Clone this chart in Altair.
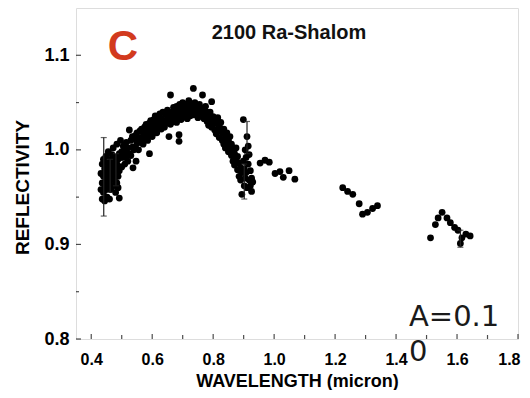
import altair as alt
import pandas as pd

# ---- data ----
lam = [
    # blue end cluster
    0.432, 0.432, 0.436, 0.436, 0.436, 0.440, 0.440, 0.440, 0.444, 0.444, 0.444,
    0.448, 0.448, 0.448, 0.452, 0.452, 0.452, 0.456, 0.456, 0.456, 0.460, 0.460, 0.460,
    0.464, 0.464, 0.464, 0.468, 0.468, 0.468, 0.472, 0.472, 0.472, 0.476, 0.476, 0.476,
    0.480, 0.480, 0.480, 0.484, 0.484, 0.484, 0.488, 0.488, 0.488, 0.492, 0.492, 0.492,
    0.496, 0.496, 0.496,
    # rising limb
    0.500, 0.500, 0.505, 0.505, 0.510, 0.510, 0.515, 0.515, 0.520, 0.520,
    0.525, 0.525, 0.530, 0.530, 0.535, 0.535, 0.537, 0.540, 0.540, 0.545, 0.545, 0.547,
    0.550, 0.550, 0.555, 0.555, 0.560, 0.560, 0.565, 0.565, 0.570, 0.570,
    0.575, 0.575, 0.580, 0.580, 0.585, 0.585, 0.590, 0.590, 0.591,
    0.595, 0.595, 0.600, 0.600, 0.605, 0.605, 0.610, 0.610, 0.615, 0.615,
    0.620, 0.620, 0.625, 0.625, 0.630, 0.630, 0.635, 0.635, 0.640, 0.640,
    0.645, 0.645, 0.650, 0.650, 0.655, 0.655, 0.660, 0.660, 0.665, 0.665,
    0.670, 0.670, 0.675, 0.675, 0.680, 0.680, 0.685, 0.685, 0.688, 0.688,
    0.690, 0.690, 0.695, 0.695, 0.700, 0.700, 0.705, 0.705, 0.710, 0.710,
    0.715, 0.715, 0.720, 0.720, 0.725, 0.725,
    # peak and falling limb
    0.730, 0.730, 0.735, 0.735, 0.740, 0.740, 0.745, 0.745, 0.750, 0.750,
    0.755, 0.755, 0.760, 0.760, 0.765, 0.765, 0.770, 0.770, 0.775, 0.775,
    0.780, 0.780, 0.785, 0.785, 0.790, 0.790, 0.795, 0.795, 0.800, 0.800,
    0.805, 0.805, 0.810, 0.810, 0.815, 0.815, 0.820, 0.820, 0.825, 0.825,
    0.830, 0.830, 0.835, 0.835, 0.840, 0.840, 0.845, 0.845, 0.850, 0.850,
    0.855, 0.855, 0.860, 0.860, 0.865, 0.865, 0.870, 0.870, 0.875, 0.875,
    0.880, 0.880, 0.885, 0.885, 0.890, 0.890, 0.894, 0.894, 0.899, 0.899,
    0.902, 0.902, 0.905, 0.905, 0.908, 0.908, 0.911, 0.911, 0.915, 0.915,
    0.918, 0.918, 0.922, 0.922, 0.926, 0.926, 0.930,
    # near-IR
    0.954, 0.970, 0.984, 1.003, 1.019, 1.030, 1.049, 1.068,
    1.225, 1.241, 1.258, 1.279, 1.290, 1.306, 1.323, 1.339,
    1.513, 1.529, 1.538, 1.551, 1.567, 1.578, 1.592, 1.603, 1.611, 1.616,
    1.629, 1.643,
]
refl = [
    0.958, 0.975, 0.948, 0.965, 0.985, 0.955, 0.972, 0.990, 0.946, 0.962, 0.980,
    0.968, 0.958, 0.993, 0.950, 0.976, 0.986, 0.962, 0.972, 0.998, 0.948, 0.966, 0.982,
    0.958, 0.976, 0.990, 0.970, 0.984, 0.995, 0.962, 0.978, 1.002, 0.968, 0.986, 0.974,
    0.955, 0.980, 0.992, 0.965, 0.985, 1.006, 0.972, 0.990, 0.960, 0.949, 0.978, 0.996,
    0.982, 0.992, 1.010,
    0.998, 0.982, 0.992, 1.004, 0.985, 0.999, 1.008, 0.993, 0.988, 1.002,
    1.021, 0.996, 1.010, 0.994, 1.003, 1.014, 0.981, 1.000, 1.012, 1.015, 1.003, 0.988,
    1.007, 1.018, 1.012, 1.000, 1.020, 1.008, 1.013, 1.022, 1.006, 1.018,
    1.024, 1.012, 1.016, 1.027, 1.010, 1.022, 1.028, 1.015, 0.996,
    1.020, 1.031, 1.026, 1.014, 1.032, 1.020, 1.025, 1.036, 1.018, 1.030,
    1.035, 1.024, 1.028, 1.038, 1.022, 1.033, 1.040, 1.027, 1.031, 1.024,
    1.037, 1.028, 1.042, 1.030, 1.014, 1.035, 1.058, 1.027, 1.040, 1.032,
    1.045, 1.030, 1.036, 1.041, 1.029, 1.046, 1.040, 1.034, 1.016, 1.009,
    1.048, 1.037, 1.032, 1.043, 1.050, 1.038, 1.035, 1.044, 1.041, 1.048,
    1.033, 1.039, 1.046, 1.052, 1.036, 1.044,
    1.041, 1.048, 1.065, 1.037, 1.044, 1.050, 1.038, 1.046, 1.042, 1.034,
    1.048, 1.040, 1.036, 1.044, 1.058, 1.039, 1.033, 1.042, 1.046, 1.038,
    1.030, 1.040, 1.036, 1.026, 1.040, 1.030, 1.051, 1.024, 1.035, 1.028,
    1.021, 1.031, 1.028, 1.017, 1.034, 1.022, 1.013, 1.025, 1.020, 1.029,
    1.010, 1.018, 1.022, 1.006, 1.014, 1.002, 1.018, 1.008, 0.998, 1.010,
    1.004, 1.014, 0.994, 1.006, 1.000, 0.988, 0.996, 0.984, 1.002, 0.990,
    0.979, 0.993, 0.986, 0.972, 0.981, 0.968, 0.953, 0.976, 1.032, 0.988,
    0.962, 0.980, 1.000, 0.970, 0.992, 0.976, 1.014, 0.960, 0.985, 1.004,
    0.968, 0.995, 0.962, 0.978, 0.956, 0.970, 0.966,
    0.986, 0.989, 0.987, 0.975, 0.977, 0.971, 0.978, 0.969,
    0.960, 0.956, 0.953, 0.943, 0.932, 0.934, 0.938, 0.941,
    0.907, 0.921, 0.928, 0.934, 0.928, 0.923, 0.918, 0.915, 0.901, 0.907,
    0.911, 0.909,
]

eb_lam = [0.441, 0.462, 0.481, 0.902, 0.911, 1.611]
eb_lo = [0.930, 0.955, 0.962, 0.948, 0.996, 0.897]
eb_hi = [1.013, 0.990, 0.996, 0.985, 1.030, 0.915]

x_major = [0.4, 0.6, 0.8, 1.0, 1.2, 1.4, 1.6, 1.8]
x_minor = [0.5, 0.7, 0.9, 1.1, 1.3, 1.5, 1.7]
y_major = [0.8, 0.9, 1.0, 1.1]
y_minor = [0.85, 0.95, 1.05]

title_text = "2100 Ra-Shalom"
panel_letter = "C"
albedo_lines = ["A=0.1", "0"]

# ---- chart ----
W, H = 442, 331
FONT = "Liberation Sans"
xs = alt.Scale(domain=[0.35, 1.8], nice=False, zero=False)
ys = alt.Scale(domain=[0.8, 1.15], nice=False, zero=False)

xaxis = alt.Axis(
    values=x_major, format=".1f", title="WAVELENGTH (micron)",
    ticks=False, tickSize=0, domain=False, grid=False,
    labelFont=FONT, labelFontSize=16, labelFontWeight="bold", labelColor="black",
    labelPadding=12, labelFlush=True, labelFlushOffset=2,
    titleFont=FONT, titleFontSize=18, titleFontWeight="bold", titleColor="black",
    titleBaseline="alphabetic", titleY=47)
yaxis = alt.Axis(
    values=y_major, format=".1f", title="REFLECTIVITY",
    ticks=False, tickSize=0, domain=False, grid=False,
    labelFont=FONT, labelFontSize=18, labelFontWeight="bold", labelColor="black",
    labelPadding=7, labelFlush=False,
    titleFont=FONT, titleFontSize=19, titleFontWeight="bold", titleColor="black",
    titleAngle=270, titleBaseline="middle", titleAlign="center",
    titleX=-54, titleY=179)

pts = pd.DataFrame({"lam": lam, "refl": refl})
ebs = pd.DataFrame({"lam": eb_lam, "lo": eb_lo, "hi": eb_hi})

points = alt.Chart(pts).mark_circle(size=46, color="black", opacity=1).encode(
    x=alt.X("lam:Q", scale=xs, axis=xaxis),
    y=alt.Y("refl:Q", scale=ys, axis=yaxis),
)

err = alt.Chart(ebs).mark_rule(color="#222222", strokeWidth=1.2).encode(
    x=alt.X("lam:Q", scale=xs, axis=xaxis),
    y=alt.Y("lo:Q", scale=ys, axis=yaxis),
    y2="hi:Q",
)
cap_hi = alt.Chart(ebs).mark_tick(orient="horizontal", size=6, thickness=1.2, color="#222222").encode(
    x=alt.X("lam:Q", scale=xs, axis=xaxis),
    y=alt.Y("hi:Q", scale=ys, axis=yaxis),
)
cap_lo = alt.Chart(ebs).mark_tick(orient="horizontal", size=6, thickness=1.2, color="#222222").encode(
    x=alt.X("lam:Q", scale=xs, axis=xaxis),
    y=alt.Y("lo:Q", scale=ys, axis=yaxis),
)

def xticks(vals, length):
    return alt.Chart(pd.DataFrame({"v": vals})).mark_tick(
        orient="vertical", size=length, thickness=1.2, color="black", yOffset=-length / 2
    ).encode(x=alt.X("v:Q", scale=xs, axis=xaxis), y=alt.YDatum(0.8, scale=ys, axis=yaxis))

def yticks(vals, length):
    return alt.Chart(pd.DataFrame({"v": vals})).mark_tick(
        orient="horizontal", size=length, thickness=1.2, color="black", xOffset=length / 2
    ).encode(y=alt.Y("v:Q", scale=ys, axis=yaxis), x=alt.XDatum(0.35, scale=xs, axis=xaxis))

letter = alt.Chart(pd.DataFrame({"t": [panel_letter]})).mark_text(
    font=FONT, fontSize=42, fontWeight="bold", color="#d23a1e",
    align="center", baseline="alphabetic"
).encode(text="t:N", x=alt.value(47), y=alt.value(52))

title = alt.Chart(pd.DataFrame({"t": [title_text]})).mark_text(
    font=FONT, fontSize=20, fontWeight="bold", color="#111111",
    align="center", baseline="alphabetic"
).encode(text="t:N", x=alt.value(213), y=alt.value(31))

albedo = alt.Chart(pd.DataFrame({"t": [0]})).mark_text(
    text=albedo_lines, font="DejaVu Sans", fontSize=29, color="#1a1a1a",
    align="left", baseline="alphabetic", lineHeight=35
).encode(x=alt.value(333), y=alt.value(318))

chart = alt.layer(
    points, err, cap_hi, cap_lo,
    xticks(x_major, 5), xticks(x_minor, 4), yticks(y_major, 5), yticks(y_minor, 3),
    letter, title, albedo,
).properties(
    width=W, height=H,
    autosize=alt.AutoSizeParams(type="none"),
    padding={"left": 68, "top": 0, "right": 4, "bottom": 51},
).configure_view(
    stroke="black", strokeWidth=1.5
).configure(background="white")

chart.save("out.html", embed_options={"renderer": "svg", "actions": False})
